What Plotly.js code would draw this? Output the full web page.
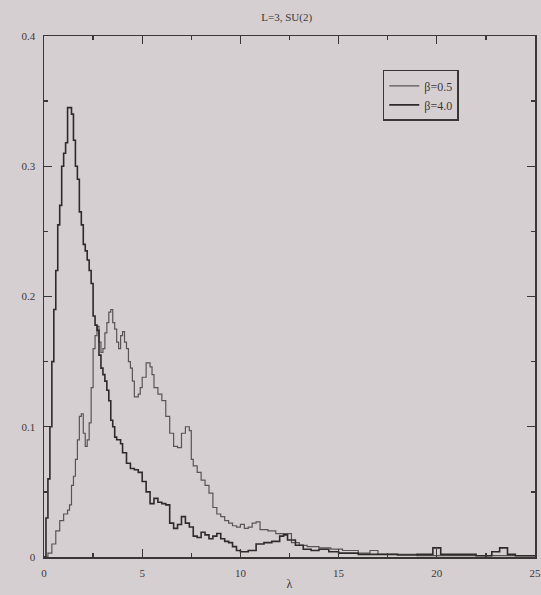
<!DOCTYPE html>
<html>
<head>
<meta charset="utf-8">
<script src="https://cdn.plot.ly/plotly-3.0.1.min.js"></script>
<style>
html,body{margin:0;padding:0;background:#d6cfd1;}
#chart{width:541px;height:595px;}
</style>
</head>
<body>
<div id="chart"></div>
<script>
// beta = 4.0 (sharply peaked)
var lambdaB40 = [0,0.1,0.2,0.3,0.4,0.5,0.6,0.7,0.8,0.9,1.0,1.1,1.2,1.3,1.4,1.5,1.6,1.7,1.8,1.9,2.0,2.1,2.2,2.3,2.4,2.5,2.6,2.7,2.8,2.9,3.0,3.1,3.2,3.3,3.4,3.5,3.6,3.7,3.8,3.9,4.0,4.2,4.4,4.6,4.8,5.0,5.2,5.4,5.6,5.8,6.0,6.2,6.4,6.6,6.8,7.0,7.2,7.4,7.6,7.8,8.0,8.2,8.4,8.6,8.8,9.0,9.2,9.4,9.6,9.8,10.0,10.4,10.8,11.2,11.6,12.0,12.2,12.4,12.8,13.2,13.6,14.0,14.5,15,16,17,18,19,19.8,20.2,21,22,22.8,23.2,23.6,24,25];
var rhoB40 = [0.0,0.03,0.06,0.10,0.15,0.19,0.22,0.255,0.27,0.30,0.31,0.318,0.345,0.345,0.34,0.32,0.30,0.29,0.265,0.255,0.24,0.235,0.228,0.22,0.21,0.185,0.178,0.174,0.155,0.145,0.14,0.135,0.128,0.12,0.105,0.10,0.092,0.09,0.09,0.087,0.08,0.072,0.068,0.067,0.065,0.058,0.05,0.041,0.045,0.042,0.041,0.04,0.026,0.022,0.025,0.031,0.026,0.023,0.016,0.015,0.019,0.017,0.014,0.016,0.018,0.014,0.012,0.011,0.008,0.005,0.004,0.005,0.01,0.011,0.012,0.016,0.017,0.013,0.009,0.006,0.005,0.006,0.004,0.003,0.002,0.002,0.0015,0.002,0.007,0.002,0.002,0.001,0.004,0.007,0.002,0.001,0.001];

// beta = 0.5 (broad distribution)
var lambdaB05 = [0,0.2,0.4,0.6,0.8,1.0,1.2,1.3,1.4,1.5,1.6,1.7,1.8,1.9,2.0,2.1,2.2,2.3,2.4,2.5,2.6,2.7,2.8,2.9,3.0,3.1,3.2,3.3,3.4,3.5,3.6,3.7,3.8,3.9,4.0,4.1,4.2,4.3,4.4,4.5,4.6,4.8,4.9,5.0,5.2,5.4,5.5,5.6,5.8,6.0,6.2,6.4,6.6,6.8,7.0,7.2,7.4,7.5,7.6,7.8,8.0,8.2,8.4,8.6,8.8,9.0,9.2,9.4,9.6,9.8,10.0,10.2,10.4,10.6,10.8,11.0,11.4,11.8,12.2,12.6,13.0,13.4,14.0,14.6,15.2,16,16.6,17,18,19,20,25];
var rhoB05 = [0,0.003,0.01,0.02,0.028,0.033,0.036,0.04,0.055,0.062,0.075,0.09,0.108,0.11,0.095,0.085,0.09,0.103,0.13,0.16,0.17,0.177,0.165,0.157,0.16,0.172,0.18,0.188,0.19,0.18,0.175,0.165,0.16,0.17,0.173,0.165,0.16,0.15,0.145,0.135,0.123,0.125,0.13,0.138,0.149,0.146,0.14,0.13,0.125,0.12,0.108,0.095,0.085,0.084,0.095,0.1,0.097,0.075,0.07,0.065,0.059,0.055,0.049,0.038,0.033,0.031,0.028,0.026,0.024,0.023,0.025,0.022,0.023,0.026,0.027,0.021,0.02,0.018,0.018,0.011,0.009,0.008,0.007,0.006,0.005,0.003,0.005,0.002,0.002,0.001,0.001,0.001];

var seriesNames = ['\u03b2=0.5', '\u03b2=4.0'];
var xTickVals = [0,5,10,15,20,25];
var yTickVals = [0,0.1,0.2,0.3,0.4];
var yTickText = ['0','0.1','0.2','0.3','0.4'];

var bg = '#d6cfd1';
var txt = '#3c3838';

var traces = [
  {x: lambdaB05, y: rhoB05, name: seriesNames[0], mode: 'lines',
   line: {shape: 'hv', color: '#595455', width: 1.2}},
  {x: lambdaB40, y: rhoB40, name: seriesNames[1], mode: 'lines',
   line: {shape: 'hv', color: '#2e2a2b', width: 1.6}}
];

var axisCommon = {
  showgrid: false, zeroline: false, showline: true, linecolor: '#3a3636', linewidth: 1.5,
  mirror: 'allticks', ticks: 'inside', ticklen: 8, tickwidth: 1.3, tickcolor: '#3a3636',
  ticklabelstandoff: 5,
  tickfont: {family: 'Liberation Serif, serif', size: 11, color: txt}
};

var layout = {
  width: 541, height: 595,
  paper_bgcolor: bg, plot_bgcolor: bg,
  margin: {l: 44, r: 6, t: 36, b: 38},
  showlegend: true,
  title: {text: 'L=3, SU(2)', x: 0.53, xanchor: 'center', y: 0.972, yanchor: 'middle',
          font: {family: 'Liberation Serif, serif', size: 11, color: txt}},
  xaxis: Object.assign({}, axisCommon, {
    range: [0, 25], tickvals: xTickVals,
    minor: {dtick: 2.5, ticks: 'inside', ticklen: 4, tickcolor: '#3a3636', showgrid: false},
    title: {text: '\u03bb', standoff: 2, font: {family: 'Liberation Serif, serif', size: 12, color: txt}}
  }),
  yaxis: Object.assign({}, axisCommon, {
    range: [0, 0.4], tickvals: yTickVals, ticktext: yTickText,
    minor: {dtick: 0.05, ticks: 'inside', ticklen: 4, tickcolor: '#3a3636', showgrid: false}
  }),
  legend: {x: 0.69, y: 0.935, xanchor: 'left', yanchor: 'top',
           bgcolor: bg, bordercolor: '#3a3636', borderwidth: 1.5,
           font: {family: 'Liberation Serif, serif', size: 12, color: txt},
           itemwidth: 30, tracegroupgap: 2}
};

Plotly.newPlot('chart', traces, layout, {displayModeBar: false, staticPlot: true});
</script>
</body>
</html>
